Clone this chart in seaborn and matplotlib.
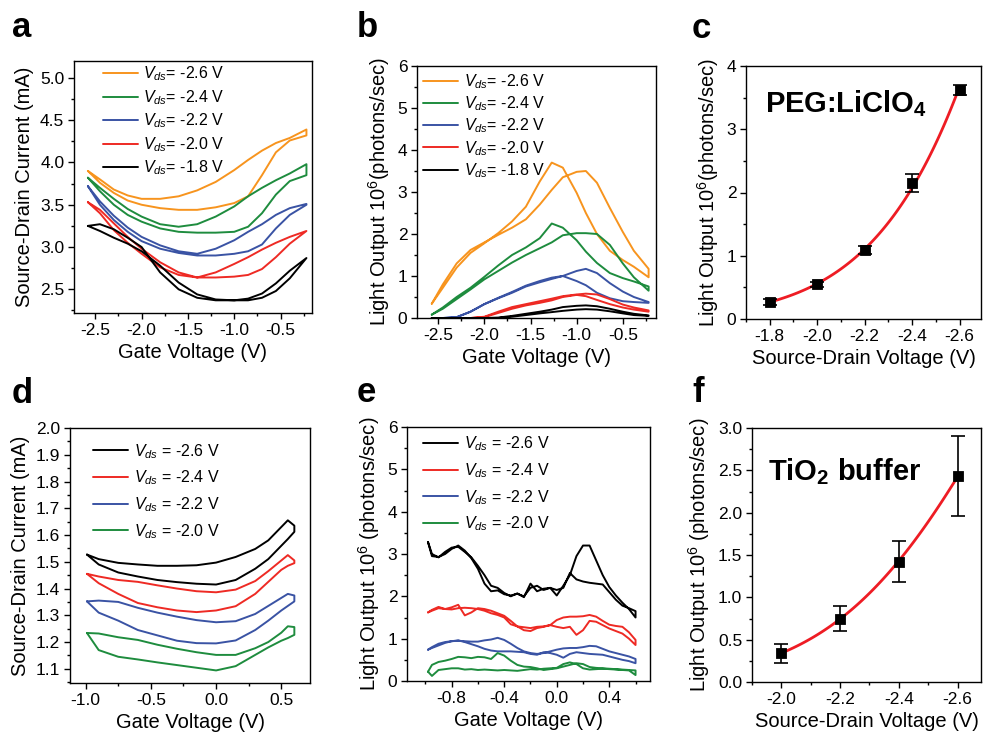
import numpy as np
import pandas as pd
import matplotlib
matplotlib.use('Agg')
import matplotlib.pyplot as plt
from matplotlib.ticker import MultipleLocator, FormatStrFormatter
import seaborn as sns

# ---------------- data ----------------
# panel a: source-drain current vs gate voltage, forward / backward sweep
vg_a = [-2.58, -2.45, -2.3, -2.15, -2.0, -1.8, -1.6, -1.4, -1.2, -1.0, -0.85, -0.7, -0.55, -0.4, -0.22]
ia_26_fwd = [3.90, 3.80, 3.68, 3.61, 3.57, 3.57, 3.60, 3.67, 3.77, 3.91, 4.03, 4.14, 4.23, 4.29, 4.39]
ia_26_bwd = [3.90, 3.76, 3.64, 3.55, 3.50, 3.46, 3.44, 3.44, 3.47, 3.52, 3.60, 3.85, 4.12, 4.26, 4.32]
ia_24_fwd = [3.82, 3.70, 3.57, 3.45, 3.36, 3.27, 3.24, 3.27, 3.36, 3.48, 3.60, 3.70, 3.79, 3.87, 3.98]
ia_24_bwd = [3.82, 3.66, 3.50, 3.38, 3.30, 3.22, 3.18, 3.17, 3.17, 3.18, 3.24, 3.40, 3.62, 3.78, 3.85]
ia_22_fwd = [3.72, 3.54, 3.37, 3.23, 3.12, 3.02, 2.95, 2.92, 2.98, 3.08, 3.18, 3.27, 3.38, 3.46, 3.51]
ia_22_bwd = [3.72, 3.50, 3.32, 3.18, 3.07, 2.98, 2.93, 2.90, 2.90, 2.92, 2.95, 3.03, 3.22, 3.38, 3.50]
ia_20_fwd = [3.53, 3.44, 3.28, 3.12, 2.98, 2.82, 2.70, 2.64, 2.70, 2.80, 2.88, 2.97, 3.05, 3.12, 3.19]
ia_20_bwd = [3.53, 3.40, 3.20, 3.05, 2.92, 2.76, 2.67, 2.64, 2.64, 2.65, 2.67, 2.74, 2.88, 3.04, 3.19]
ia_18_fwd = [3.25, 3.27, 3.21, 3.11, 3.00, 2.70, 2.50, 2.40, 2.37, 2.37, 2.39, 2.45, 2.57, 2.72, 2.87]
ia_18_bwd = [3.25, 3.19, 3.11, 3.04, 2.95, 2.78, 2.58, 2.44, 2.38, 2.37, 2.37, 2.40, 2.48, 2.63, 2.87]

# panel b: light output vs gate voltage
vg_b = [-2.57, -2.45, -2.3, -2.15, -2.0, -1.85, -1.7, -1.55, -1.4, -1.27, -1.15, -1.0, -0.9, -0.78, -0.64, -0.5, -0.38, -0.22]
lb_26_fwd = [0.34, 0.72, 1.20, 1.55, 1.78, 2.02, 2.30, 2.65, 3.25, 3.70, 3.58, 2.98, 2.50, 2.00, 1.60, 1.38, 1.22, 0.97]
lb_26_bwd = [0.34, 0.80, 1.30, 1.62, 1.80, 1.98, 2.15, 2.35, 2.70, 3.05, 3.35, 3.48, 3.50, 3.22, 2.62, 2.05, 1.60, 1.17]
lb_24_fwd = [0.08, 0.25, 0.50, 0.72, 0.98, 1.25, 1.50, 1.68, 1.90, 2.25, 2.15, 1.85, 1.58, 1.31, 1.07, 0.95, 0.87, 0.75]
lb_24_bwd = [0.08, 0.22, 0.45, 0.68, 0.92, 1.12, 1.32, 1.50, 1.66, 1.80, 1.97, 2.02, 2.02, 2.00, 1.74, 1.30, 0.97, 0.65]
lb_22_fwd = [0.00, 0.00, 0.02, 0.15, 0.33, 0.48, 0.62, 0.77, 0.88, 0.96, 1.00, 0.88, 0.78, 0.60, 0.47, 0.40, 0.38, 0.36]
lb_22_bwd = [0.00, 0.00, 0.02, 0.15, 0.33, 0.47, 0.60, 0.75, 0.85, 0.93, 1.00, 1.12, 1.17, 1.07, 0.83, 0.63, 0.50, 0.38]
lb_20_fwd = [0.00, 0.00, 0.00, 0.00, 0.03, 0.15, 0.26, 0.33, 0.40, 0.46, 0.52, 0.56, 0.58, 0.56, 0.45, 0.32, 0.25, 0.18]
lb_20_bwd = [0.00, 0.00, 0.00, 0.00, 0.02, 0.12, 0.22, 0.30, 0.36, 0.42, 0.50, 0.55, 0.52, 0.43, 0.33, 0.25, 0.20, 0.15]
lb_18_fwd = [0.00, 0.00, 0.00, 0.00, 0.00, 0.01, 0.05, 0.10, 0.15, 0.20, 0.26, 0.29, 0.30, 0.28, 0.22, 0.15, 0.10, 0.06]
lb_18_bwd = [0.00, 0.00, 0.00, 0.00, 0.00, 0.00, 0.03, 0.07, 0.11, 0.14, 0.17, 0.20, 0.21, 0.20, 0.16, 0.11, 0.07, 0.05]

# panel c: PEG:LiClO4 light output vs Vds
vds_c = [-1.8, -2.0, -2.2, -2.4, -2.6]
light_c = [0.27, 0.55, 1.09, 2.15, 3.62]
err_c = [0.05, 0.04, 0.07, 0.14, 0.08]

# panel d: source-drain current, TiO2 buffer device
vg_d = [-0.99, -0.9, -0.75, -0.6, -0.45, -0.3, -0.15, 0.0, 0.15, 0.3, 0.4, 0.5, 0.55, 0.6]
id_26_fwd = [1.527, 1.510, 1.496, 1.490, 1.485, 1.485, 1.487, 1.497, 1.518, 1.548, 1.580, 1.630, 1.655, 1.635]
id_26_bwd = [1.527, 1.490, 1.460, 1.445, 1.432, 1.424, 1.418, 1.415, 1.432, 1.474, 1.510, 1.560, 1.585, 1.612]
id_24_fwd = [1.455, 1.445, 1.432, 1.425, 1.412, 1.400, 1.390, 1.386, 1.396, 1.428, 1.465, 1.505, 1.525, 1.505]
id_24_bwd = [1.455, 1.420, 1.380, 1.346, 1.330, 1.318, 1.312, 1.318, 1.334, 1.380, 1.425, 1.470, 1.485, 1.495]
id_22_fwd = [1.352, 1.355, 1.350, 1.328, 1.310, 1.295, 1.282, 1.274, 1.278, 1.305, 1.335, 1.365, 1.380, 1.374]
id_22_bwd = [1.352, 1.310, 1.280, 1.245, 1.225, 1.205, 1.196, 1.195, 1.206, 1.245, 1.280, 1.318, 1.335, 1.352]
id_20_fwd = [1.234, 1.232, 1.218, 1.208, 1.190, 1.175, 1.162, 1.152, 1.152, 1.177, 1.200, 1.235, 1.259, 1.256]
id_20_bwd = [1.234, 1.170, 1.145, 1.135, 1.124, 1.114, 1.104, 1.094, 1.110, 1.152, 1.180, 1.205, 1.215, 1.227]

# panel e: light output, TiO2 buffer device
vg_e = [-0.98, -0.95, -0.9, -0.85, -0.8, -0.75, -0.7, -0.65, -0.6, -0.55, -0.5, -0.45, -0.4, -0.35, -0.3, -0.25, -0.2,
        -0.15, -0.1, -0.05, 0.0, 0.05, 0.1, 0.15, 0.2, 0.25, 0.3, 0.35, 0.4, 0.45, 0.5, 0.55, 0.6]
le_26_fwd = [3.28, 2.95, 2.93, 3.00, 3.12, 3.20, 3.08, 2.90, 2.65, 2.30, 2.12, 2.14, 2.05, 2.02, 2.06, 2.00, 2.20,
             2.25, 2.15, 2.20, 2.02, 2.25, 2.50, 2.95, 3.20, 3.20, 2.85, 2.50, 2.22, 2.02, 1.85, 1.70, 1.50]
le_26_bwd = [3.28, 3.00, 2.92, 3.05, 3.15, 3.17, 3.05, 2.92, 2.72, 2.50, 2.25, 2.20, 2.08, 2.00, 2.07, 1.98, 2.30,
             2.12, 2.18, 2.20, 2.15, 2.20, 2.55, 2.40, 2.35, 2.32, 2.30, 2.28, 2.10, 1.92, 1.78, 1.72, 1.65]
le_24_fwd = [1.62, 1.68, 1.75, 1.70, 1.74, 1.80, 1.55, 1.62, 1.72, 1.70, 1.66, 1.60, 1.54, 1.42, 1.29, 1.20, 1.18,
             1.25, 1.28, 1.32, 1.44, 1.50, 1.52, 1.52, 1.53, 1.56, 1.52, 1.42, 1.33, 1.30, 1.28, 1.15, 0.97]
le_24_bwd = [1.62, 1.66, 1.72, 1.70, 1.69, 1.72, 1.73, 1.72, 1.70, 1.66, 1.60, 1.56, 1.50, 1.34, 1.29, 1.27, 1.25,
             1.28, 1.29, 1.32, 1.28, 1.25, 1.28, 1.09, 1.20, 1.42, 1.40, 1.32, 1.24, 1.18, 1.12, 1.00, 0.85]
le_22_fwd = [0.74, 0.80, 0.88, 0.92, 0.94, 0.95, 0.94, 0.93, 0.93, 0.96, 0.98, 1.02, 0.97, 0.88, 0.78, 0.70, 0.66,
             0.64, 0.66, 0.70, 0.74, 0.77, 0.78, 0.78, 0.80, 0.83, 0.82, 0.76, 0.70, 0.66, 0.62, 0.58, 0.52]
le_22_bwd = [0.74, 0.78, 0.84, 0.90, 0.94, 0.96, 0.92, 0.87, 0.82, 0.76, 0.72, 0.70, 0.70, 0.70, 0.69, 0.68, 0.64,
             0.62, 0.68, 0.66, 0.62, 0.55, 0.64, 0.68, 0.66, 0.64, 0.63, 0.62, 0.58, 0.54, 0.50, 0.47, 0.42]
le_20_fwd = [0.22, 0.38, 0.45, 0.48, 0.52, 0.57, 0.56, 0.54, 0.57, 0.56, 0.52, 0.66, 0.60, 0.48, 0.38, 0.34, 0.33,
             0.30, 0.26, 0.28, 0.30, 0.34, 0.38, 0.42, 0.40, 0.33, 0.31, 0.30, 0.29, 0.28, 0.27, 0.26, 0.25]
le_20_bwd = [0.22, 0.12, 0.26, 0.28, 0.30, 0.30, 0.27, 0.28, 0.26, 0.27, 0.26, 0.25, 0.26, 0.25, 0.24, 0.26, 0.28,
             0.27, 0.29, 0.30, 0.31, 0.40, 0.44, 0.40, 0.30, 0.27, 0.28, 0.29, 0.28, 0.27, 0.26, 0.25, 0.14]

# panel f: TiO2 buffer light output vs Vds
vds_f = [-2.0, -2.2, -2.4, -2.6]
light_f = [0.34, 0.75, 1.42, 2.43]
err_f = [0.11, 0.15, 0.24, 0.47]

ORANGE, GREEN, BLUE, RED, BLACK = '#F7941E', '#1E8C3E', '#3A53A4', '#EE2A24', '#000000'

# ---------------- style ----------------
sns.set_style('ticks')
plt.rcParams['font.family'] = ['Liberation Sans', 'DejaVu Sans']
plt.rcParams['mathtext.fontset'] = 'custom'
plt.rcParams['mathtext.rm'] = 'Liberation Sans'
plt.rcParams['mathtext.it'] = 'Liberation Sans:italic'
plt.rcParams['mathtext.bf'] = 'Liberation Sans:bold'
plt.rcParams['axes.edgecolor'] = 'black'
plt.rcParams['xtick.color'] = 'black'
plt.rcParams['ytick.color'] = 'black'
plt.rcParams['axes.labelcolor'] = 'black'
plt.rcParams['text.color'] = 'black'

W, H = 983, 736
fig = plt.figure(figsize=(W / 100, H / 100), dpi=100)


def make_ax(left, top, right, bottom):
    return fig.add_axes([left / W, 1 - bottom / H, (right - left) / W, (bottom - top) / H])


def style_ax(ax, xmaj, xmin, ymaj, ymin, xfmt, yfmt):
    for s in ax.spines.values():
        s.set_linewidth(1.0)
        s.set_visible(True)
    ax.xaxis.set_major_locator(MultipleLocator(xmaj))
    ax.xaxis.set_minor_locator(MultipleLocator(xmin))
    ax.yaxis.set_major_locator(MultipleLocator(ymaj))
    ax.yaxis.set_minor_locator(MultipleLocator(ymin))
    ax.xaxis.set_major_formatter(FormatStrFormatter(xfmt))
    ax.yaxis.set_major_formatter(FormatStrFormatter(yfmt))
    ax.tick_params(which='both', direction='out', top=False, right=False, labelsize=12.5, width=1.0, pad=3)
    ax.tick_params(which='major', length=4)
    ax.tick_params(which='minor', length=2.5)


def draw_loops(ax, x, loops):
    # each loop: forward sweep then backward sweep, drawn as one closed trace
    for fwd, bwd, color, label in loops:
        xs = list(x) + list(x)[::-1]
        ys = list(fwd) + list(bwd)[::-1]
        sns.lineplot(x=xs, y=ys, sort=False, estimator=None, color=color, lw=1.4, label=label, ax=ax)


def loop_legend(ax, x0, y0, spacing):
    ax.legend(loc='upper left', bbox_to_anchor=(x0, y0), frameon=False, fontsize=11.5,
              handlelength=2.2, handletextpad=0.35, labelspacing=spacing, borderaxespad=0, borderpad=0)


def fit_curve(ax, vds, light):
    # smooth fit through the measured points (quadratic in log space)
    coef = np.polyfit(np.abs(vds), np.log(light), 2)
    vfit = np.linspace(min(vds), max(vds), 120)
    sns.lineplot(x=vfit, y=np.exp(np.polyval(coef, np.abs(vfit))), color='#EE1C24', lw=2, ax=ax)


def lab(v, sp=''):
    return r'$V_{ds}$' + sp + '= ' + v + ' V'


LBL = 14.5
ylab_light = r'Light Output 10$^6$(photons/sec)'
ylab_light2 = r'Light Output 10$^6$ (photons/sec)'

# ---------------- panel a ----------------
ax = make_ax(74, 61, 312, 313)
draw_loops(ax, vg_a, [(ia_26_fwd, ia_26_bwd, ORANGE, lab('-2.6')),
                      (ia_24_fwd, ia_24_bwd, GREEN, lab('-2.4')),
                      (ia_22_fwd, ia_22_bwd, BLUE, lab('-2.2')),
                      (ia_20_fwd, ia_20_bwd, RED, lab('-2.0')),
                      (ia_18_fwd, ia_18_bwd, BLACK, lab('-1.8'))])
ax.set_xlim(-2.73, -0.16)
ax.set_ylim(2.22, 5.2)
style_ax(ax, 0.5, 0.25, 0.5, 0.25, '%.1f', '%.1f')
ax.set_xlabel('Gate Voltage (V)', fontsize=LBL)
ax.set_ylabel('Source-Drain Current (mA)', fontsize=LBL)
loop_legend(ax, 0.12, 0.985, 0.3)

# ---------------- panel b ----------------
ax = make_ax(417, 66, 656, 318)
draw_loops(ax, vg_b, [(lb_26_fwd, lb_26_bwd, ORANGE, lab('-2.6')),
                      (lb_24_fwd, lb_24_bwd, GREEN, lab('-2.4')),
                      (lb_22_fwd, lb_22_bwd, BLUE, lab('-2.2')),
                      (lb_20_fwd, lb_20_bwd, RED, lab('-2.0')),
                      (lb_18_fwd, lb_18_bwd, BLACK, lab('-1.8'))])
ax.set_xlim(-2.73, -0.14)
ax.set_ylim(0, 6)
style_ax(ax, 0.5, 0.25, 1, 0.5, '%.1f', '%d')
ax.set_xlabel('Gate Voltage (V)', fontsize=LBL)
ax.set_ylabel(ylab_light, fontsize=LBL)
loop_legend(ax, 0.025, 0.975, 0.22)

# ---------------- panel c ----------------
ax = make_ax(746, 66, 981, 319)
fit_curve(ax, vds_c, light_c)
ax.errorbar(vds_c, light_c, yerr=err_c, fmt='none', ecolor='black', elinewidth=1.2, capsize=5, capthick=1.2, zorder=3)
sns.scatterplot(x=vds_c, y=light_c, marker='s', color='black', s=55, edgecolor='black', zorder=4, ax=ax)
ax.set_xlim(-1.7, -2.69)
ax.set_ylim(0, 4)
style_ax(ax, 0.2, 0.1, 1, 0.5, '%.1f', '%d')
ax.set_xlabel('Source-Drain Voltage (V)', fontsize=LBL)
ax.set_ylabel(ylab_light, fontsize=LBL)
ax.text(0.08, 0.85, r'PEG:LiClO$_\mathbf{4}$', transform=ax.transAxes, fontsize=21, fontweight='bold', va='center')

# ---------------- panel d ----------------
ax = make_ax(70, 428, 310, 683)
draw_loops(ax, vg_d, [(id_26_fwd, id_26_bwd, BLACK, lab('-2.6', ' ')),
                      (id_24_fwd, id_24_bwd, RED, lab('-2.4', ' ')),
                      (id_22_fwd, id_22_bwd, BLUE, lab('-2.2', ' ')),
                      (id_20_fwd, id_20_bwd, GREEN, lab('-2.0', ' '))])
ax.set_xlim(-1.12, 0.72)
ax.set_ylim(1.047, 2.0)
style_ax(ax, 0.5, 0.25, 0.1, 0.05, '%.1f', '%.1f')
ax.set_xlabel('Gate Voltage (V)', fontsize=LBL)
ax.set_ylabel('Source-Drain Current (mA)', fontsize=LBL)
loop_legend(ax, 0.095, 0.945, 0.5)

# ---------------- panel e ----------------
ax = make_ax(407, 427, 650, 681)
draw_loops(ax, vg_e, [(le_26_fwd, le_26_bwd, BLACK, lab('-2.6', ' ')),
                      (le_24_fwd, le_24_bwd, RED, lab('-2.4', ' ')),
                      (le_22_fwd, le_22_bwd, BLUE, lab('-2.2', ' ')),
                      (le_20_fwd, le_20_bwd, GREEN, lab('-2.0', ' '))])
ax.set_xlim(-1.14, 0.71)
ax.set_ylim(0, 6)
style_ax(ax, 0.4, 0.2, 1, 0.5, '%.1f', '%d')
ax.set_xlabel('Gate Voltage (V)', fontsize=LBL)
ax.set_ylabel(ylab_light2, fontsize=LBL)
loop_legend(ax, 0.065, 0.97, 0.5)

# ---------------- panel f ----------------
ax = make_ax(752, 428, 981, 682)
fit_curve(ax, vds_f, light_f)
ax.errorbar(vds_f, light_f, yerr=err_f, fmt='none', ecolor='black', elinewidth=1.2, capsize=5, capthick=1.2, zorder=3)
sns.scatterplot(x=vds_f, y=light_f, marker='s', color='black', s=55, edgecolor='black', zorder=4, ax=ax)
ax.set_xlim(-1.9, -2.68)
ax.set_ylim(0, 3)
style_ax(ax, 0.2, 0.1, 0.5, 0.25, '%.1f', '%.1f')
ax.set_xlabel('Source-Drain Voltage (V)', fontsize=LBL)
ax.set_ylabel(ylab_light2, fontsize=LBL)
ax.text(0.07, 0.83, r'TiO$_\mathbf{2}$ buffer', transform=ax.transAxes, fontsize=21, fontweight='bold', va='center')

# ---------------- panel letters ----------------
for letter, px, py in [('a', 12, 37), ('b', 357, 37), ('c', 692, 38),
                       ('d', 12, 403), ('e', 357, 402), ('f', 692, 402)]:
    fig.text(px / W, 1 - py / H, letter, fontsize=25, fontweight='bold', va='baseline', ha='left')

fig.savefig('out.png', dpi=100)
